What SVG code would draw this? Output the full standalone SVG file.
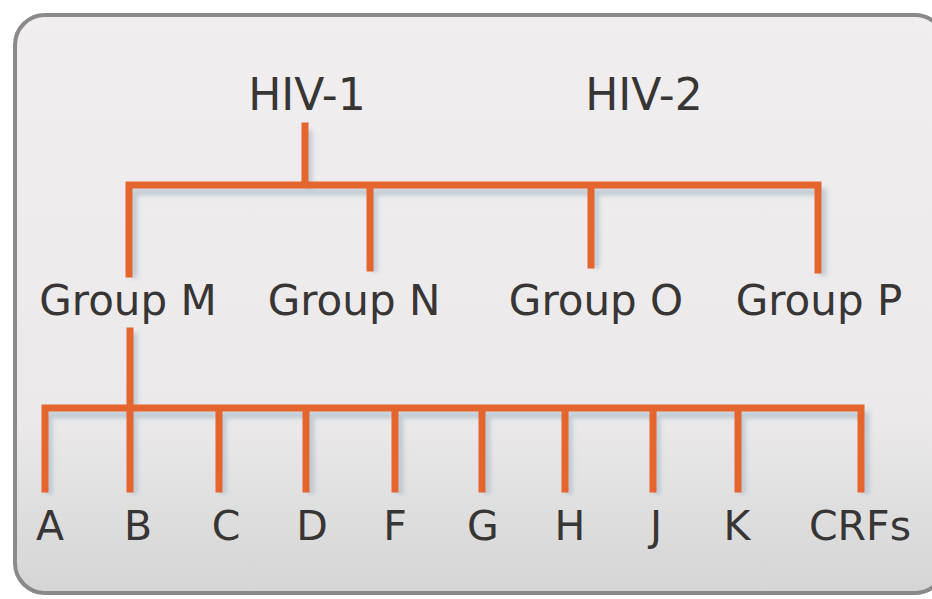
<svg xmlns="http://www.w3.org/2000/svg" width="932" height="599" viewBox="0 0 932 599">
<defs>
<linearGradient id="bg" x1="0" y1="0" x2="0" y2="1">
<stop offset="0" stop-color="#f0eeee"/>
<stop offset="0.7" stop-color="#ebe9e9"/>
<stop offset="1" stop-color="#d5d5d5"/>
</linearGradient>
<filter id="sh" x="-5%" y="-5%" width="110%" height="110%">
<feGaussianBlur stdDeviation="2"/>
</filter>
</defs>
<style>
.t{font-family:"DejaVu Sans",Verdana,sans-serif;fill:#383535;text-anchor:middle}
.big{font-size:44px}
.mid{font-size:42px}
.sm{font-size:41px}
.ln{stroke:#e5652f;stroke-width:7;fill:none;stroke-linecap:square}
.sd{stroke:#9fb2c4;stroke-width:7;fill:none;opacity:0.55}
</style>
<rect width="932" height="599" fill="#ffffff"/>
<rect x="15" y="15" width="930" height="578" rx="30" fill="url(#bg)" stroke="#8a8a8a" stroke-width="4"/>
<g id="connectors">
<g filter="url(#sh)">
<path class="sd" d="M309 130V192M134 278V192H823V276M374 192V272M596 192V268M134 333V494M49 494V415H866V494M223 415V494M311 415V494M400 415V494M487 415V494M569 415V494M657 415V494M742 415V494"/>
</g>
<path class="ln" d="M305 126V185M129 274V185H818V270M370 185V268M591 185V265M130 331V489M45 489V408H861V489M219 408V489M306 408V489M395 408V489M482 408V489M565 408V489M653 408V489M738 408V489"/>
</g>
<g id="hiv1"><text class="t big" x="307" y="110">HIV-1</text></g>
<g id="hiv2"><text class="t big" x="644" y="110">HIV-2</text></g>
<g id="groupM"><text class="t mid" x="128" y="315">Group M</text></g>
<g id="groupN"><text class="t mid" x="354" y="315">Group N</text></g>
<g id="groupO"><text class="t mid" x="596" y="315">Group O</text></g>
<g id="groupP"><text class="t mid" x="819" y="315">Group P</text></g>
<g id="A"><text class="t sm" x="50" y="540">A</text></g>
<g id="B"><text class="t sm" x="138" y="540">B</text></g>
<g id="C"><text class="t sm" x="226" y="540">C</text></g>
<g id="D"><text class="t sm" x="312" y="540">D</text></g>
<g id="F"><text class="t sm" x="395" y="540">F</text></g>
<g id="G"><text class="t sm" x="483" y="540">G</text></g>
<g id="H"><text class="t sm" x="570" y="540">H</text></g>
<g id="J"><text class="t sm" x="656" y="540">J</text></g>
<g id="K"><text class="t sm" x="737" y="540">K</text></g>
<g id="CRFs"><text class="t sm" x="860" y="540">CRFs</text></g>
</svg>
